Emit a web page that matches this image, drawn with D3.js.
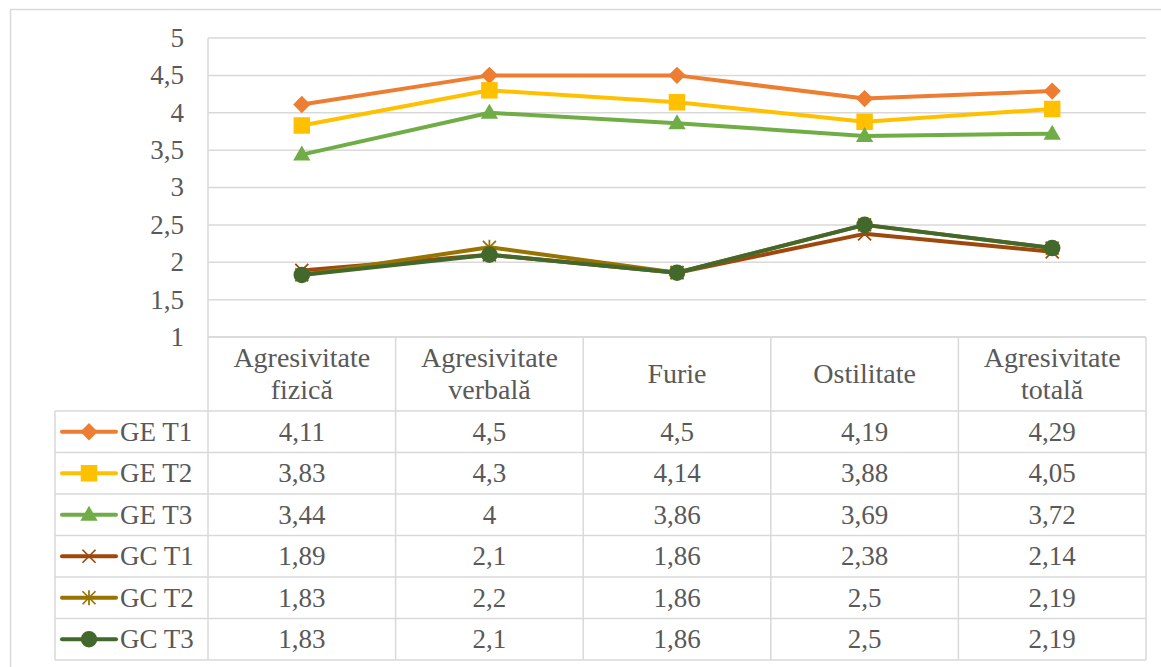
<!DOCTYPE html>
<html>
<head>
<meta charset="utf-8">
<script src="https://cdn.jsdelivr.net/npm/d3@7"></script>
</head>
<body style="margin:0">
<script>
const width = 1161, height = 667;

const categories = [
  ["Agresivitate", "fizică"],
  ["Agresivitate", "verbală"],
  ["Furie"],
  ["Ostilitate"],
  ["Agresivitate", "totală"]
];
const seriesNames = ["GE T1", "GE T2", "GE T3", "GC T1", "GC T2", "GC T3"];
const geT1 = [4.11, 4.5, 4.5, 4.19, 4.29];
const geT2 = [3.83, 4.3, 4.14, 3.88, 4.05];
const geT3 = [3.44, 4, 3.86, 3.69, 3.72];
const gcT1 = [1.89, 2.1, 1.86, 2.38, 2.14];
const gcT2 = [1.83, 2.2, 1.86, 2.5, 2.19];
const gcT3 = [1.83, 2.1, 1.86, 2.5, 2.19];
const yTicks = [1, 1.5, 2, 2.5, 3, 3.5, 4, 4.5, 5];

const colors = ["#ED7D31", "#FFC000", "#70AD47", "#9E480E", "#997300", "#43682B"];
const markers = ["diamond", "square", "triangle", "x", "star", "circle"];
const series = [geT1, geT2, geT3, gcT1, gcT2, gcT3].map((values, i) => ({
  name: seriesNames[i], values, color: colors[i], marker: markers[i]
}));

const fmt = v => String(v).replace(".", ",");
const fontName = ["Liberation", "Serif"].join(" ");
const TEXT_COLOR = "#595959";

// every text gets its font inline
function label(parent, size) {
  return parent.append("text")
    .attr("font-size", size)
    .attr("fill", TEXT_COLOR)
    .style("font-family", d => `"${fontName}"`);
}

const plot = {left: 208, right: 1146, top: 38, bottom: 337};
const table = {left: 55, headerBottom: 411, rowH: 41.5};

const svg = d3.select("body").append("svg")
  .attr("width", width)
  .attr("height", height);

// outer chart border
svg.append("path")
  .attr("d", `M10.5,${height} V9.5 H${width}`)
  .attr("fill", "none")
  .attr("stroke", "#d9d9d9")
  .attr("stroke-width", 1.5);

const x = d3.scaleBand()
  .domain(d3.range(categories.length))
  .range([plot.left, plot.right]);

const y = d3.scaleLinear()
  .domain([1, 5])
  .range([plot.bottom, plot.top]);

// gridlines
svg.append("g")
  .selectAll("line")
  .data(yTicks)
  .join("line")
  .attr("x1", plot.left)
  .attr("x2", plot.right)
  .attr("y1", d => y(d))
  .attr("y2", d => y(d))
  .attr("stroke", "#d9d9d9")
  .attr("stroke-width", 1.5);

// left edge of plot
svg.append("line")
  .attr("x1", plot.left).attr("x2", plot.left)
  .attr("y1", plot.top).attr("y2", plot.bottom)
  .attr("stroke", "#d9d9d9").attr("stroke-width", 1.5);

// y tick labels
const yg = svg.append("g");
yTicks.forEach(t => {
  label(yg, 27)
    .attr("x", 184)
    .attr("y", y(t))
    .attr("dy", "0.33em")
    .attr("text-anchor", "end")
    .text(fmt(t));
});

// marker drawing
function drawMarker(g, type, color) {
  if (type === "diamond") {
    g.append("path")
      .attr("d", d3.symbol(d3.symbolSquare, 150)())
      .attr("transform", "rotate(45)")
      .attr("fill", color);
  } else if (type === "square") {
    g.append("path")
      .attr("d", d3.symbol(d3.symbolSquare, 272)())
      .attr("fill", color);
  } else if (type === "triangle") {
    g.append("path")
      .attr("d", d3.symbol(d3.symbolTriangle, 130)())
      .attr("transform", "translate(0,1)")
      .attr("fill", color);
  } else if (type === "circle") {
    g.append("path")
      .attr("d", d3.symbol(d3.symbolCircle, 215)())
      .attr("fill", color);
  } else if (type === "x" || type === "star") {
    const r = 6.5;
    let d = `M${-r},${-r}L${r},${r}M${-r},${r}L${r},${-r}`;
    if (type === "star") d += `M0,${-r - 1}L0,${r + 1}`;
    g.append("path")
      .attr("d", d)
      .attr("stroke", color)
      .attr("stroke-width", 1.75)
      .attr("fill", "none");
  }
}

const line = d3.line()
  .x((d, i) => x(i) + x.bandwidth() / 2)
  .y(d => y(d));

// series lines and markers
series.forEach(s => {
  const g = svg.append("g");
  g.append("path")
    .attr("d", line(s.values))
    .attr("fill", "none")
    .attr("stroke", s.color)
    .attr("stroke-width", 4)
    .attr("stroke-linejoin", "round");
  s.values.forEach((v, i) => {
    const m = g.append("g")
      .attr("transform", `translate(${x(i) + x.bandwidth() / 2},${y(v)})`);
    drawMarker(m, s.marker, s.color);
  });
});

// data table
const tg = svg.append("g");
const gridStroke = {stroke: "#d9d9d9", w: 1.5};
const tableBottom = table.headerBottom + table.rowH * series.length;

// horizontal lines
const hLines = [plot.bottom].concat(d3.range(series.length + 1).map(i => table.headerBottom + i * table.rowH));
hLines.forEach((yy, i) => {
  tg.append("line")
    .attr("x1", i === 0 ? plot.left : table.left)
    .attr("x2", plot.right)
    .attr("y1", yy).attr("y2", yy)
    .attr("stroke", gridStroke.stroke).attr("stroke-width", gridStroke.w);
});

// vertical lines
tg.append("line")
  .attr("x1", table.left).attr("x2", table.left)
  .attr("y1", table.headerBottom).attr("y2", tableBottom)
  .attr("stroke", gridStroke.stroke).attr("stroke-width", gridStroke.w);
d3.range(categories.length + 1).forEach(i => {
  const xx = i < categories.length ? x(i) : plot.right;
  tg.append("line")
    .attr("x1", xx).attr("x2", xx)
    .attr("y1", plot.bottom).attr("y2", tableBottom)
    .attr("stroke", gridStroke.stroke).attr("stroke-width", gridStroke.w);
});

// header labels
categories.forEach((lines, i) => {
  const cx = x(i) + x.bandwidth() / 2;
  const mid = (plot.bottom + table.headerBottom) / 2;
  lines.forEach((ln, j) => {
    const off = (j - (lines.length - 1) / 2) * 32;
    label(tg, 28)
      .attr("x", cx)
      .attr("y", mid + off)
      .attr("dy", "0.33em")
      .attr("text-anchor", "middle")
      .text(ln);
  });
});

// rows
series.forEach((s, r) => {
  const cy = table.headerBottom + r * table.rowH + table.rowH / 2;
  tg.append("line")
    .attr("x1", 62).attr("x2", 116)
    .attr("y1", cy).attr("y2", cy)
    .attr("stroke", s.color)
    .attr("stroke-width", 4)
    .attr("stroke-linecap", "round");
  drawMarker(tg.append("g").attr("transform", `translate(89,${cy})`), s.marker, s.color);
  label(tg, 27)
    .attr("x", 120)
    .attr("y", cy)
    .attr("dy", "0.33em")
    .text(s.name);
  s.values.forEach((v, i) => {
    label(tg, 27)
      .attr("x", x(i) + x.bandwidth() / 2)
      .attr("y", cy)
      .attr("dy", "0.33em")
      .attr("text-anchor", "middle")
      .text(fmt(v));
  });
});
</script>
</body>
</html>
